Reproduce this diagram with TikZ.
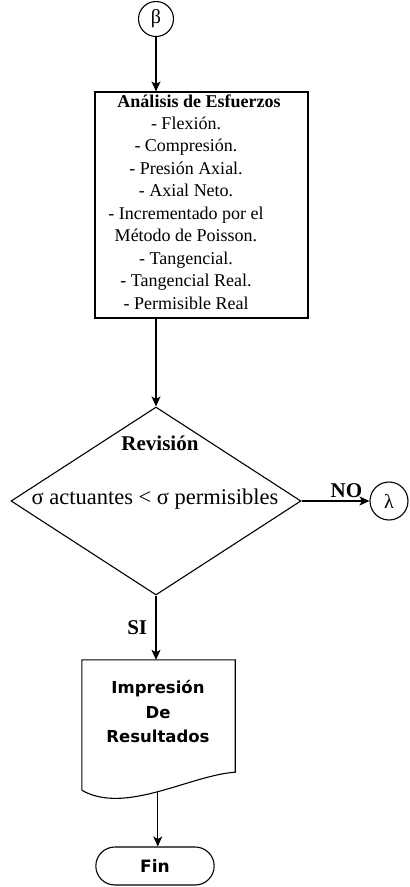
\documentclass[tikz,border=0pt]{standalone}
\usepackage{fontspec}
\setmainfont{Liberation Serif}
\newfontfamily\sansdoc{DejaVu Sans}
\usetikzlibrary{calc,positioning}
\usetikzlibrary{shapes.geometric,shapes.misc,arrows.meta}

\begin{document}
\begin{tikzpicture}[x=1pt,y=-1pt,
	linea/.style={line width=1.1pt},
	flecha/.style={linea,-{Stealth[length=10pt,width=9pt,inset=2.5pt]}},
	conector/.style={circle,draw,linea,minimum size=35pt,inner sep=0pt,font=\fontsize{20}{22}\selectfont},
	texto/.style={font=\fontsize{18}{22.5}\selectfont},
	textorev/.style={font=\fontsize{21}{24}\selectfont},
	letrasans/.style={font=\sansdoc\bfseries\fontsize{16.5}{24.5}\selectfont}]
			\useasboundingbox (0,0) rectangle (410,887);
			%conector de entrada
			\node[conector] (beta) at (156,19) {β};
			%analisis de esfuerzos
			\node[draw,linea,inner sep=0pt,minimum width=213pt,minimum height=226pt] (esf) at (201.5,205) {};
			\node[texto] (titesf) at (199,101) {\textbf{Análisis de Esfuerzos}};
			\node[texto,align=center] (lista) at (186,213) {- Flexión.\\- Compresión.\\- Presión Axial.\\- Axial Neto.\\- Incrementado por el\\Método de Poisson.\\- Tangencial.\\- Tangencial Real.\\- Permisible Real};
			\draw[flecha] (beta) -- (beta |- esf.north);
			%revision
			\node[diamond,draw,linea,inner sep=0pt,minimum width=290pt,minimum height=188pt] (rev) at (156,501) {};
			\node[textorev] (titrev) at (160,443) {\textbf{Revisión}};
			\node[font=\fontsize{22.5}{24}\selectfont] (cond) at (155,499) {σ actuantes < σ permisibles};
			\draw[flecha] (esf.south -| rev.north) -- (rev.north);
			\node[conector,minimum size=38pt] (lam) at (389,501) {λ};
			\draw[flecha] (rev.east) -- (lam.west) node[pos=0.66,above=-1pt,textorev]{\textbf{NO}};
			%impresion
			\node[minimum width=153pt,minimum height=130pt,inner sep=0pt] (impr) at (158.5,725) {};
			\node[letrasans,align=center] (imprtxt) at (158,712) {Impresión\\De\\Resultados};
			\draw[linea] (impr.south west) -- (impr.north west) -- (impr.north east) -- ($(impr.south east)+(0,-18)$) .. controls ($(impr.south east)+(-45,-15)$) and ($(impr.south west)+(43,25)$) .. (impr.south west) coordinate[pos=0.5] (pie);
			\draw[flecha] (rev.south) -- (rev.south |- impr.north) node[midway,left=5pt,textorev]{\textbf{SI}};
			%fin
			\node[rounded rectangle,draw,linea,minimum width=125pt,minimum height=38pt,font=\sansdoc\bfseries\fontsize{17}{19}\selectfont] (fin) at (155,866) {Fin};
			\draw[flecha] (pie) -- (pie |- fin.north);
		\end{tikzpicture}
\end{document}
